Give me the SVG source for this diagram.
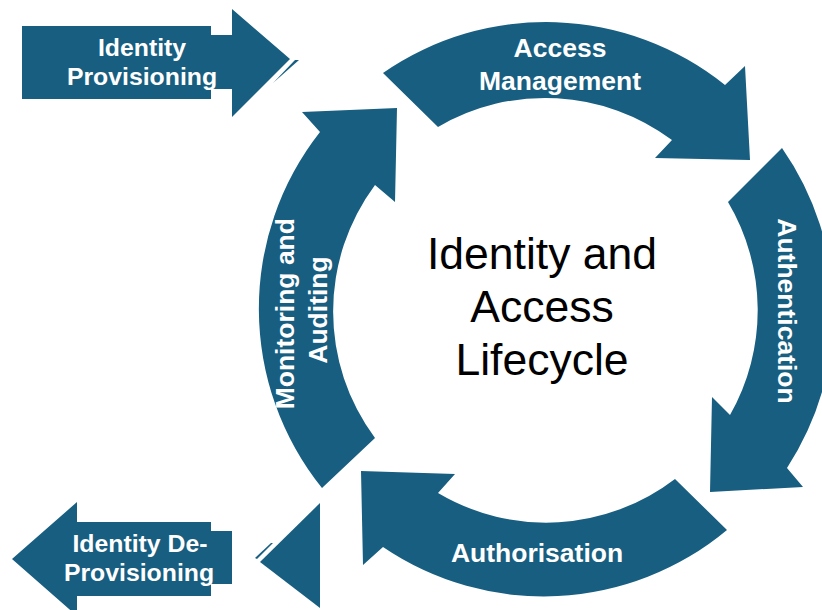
<svg xmlns="http://www.w3.org/2000/svg" width="822" height="610" viewBox="0 0 822 610">
  <style>
    .shape { fill: #175e80; }
    .lbl { fill: #ffffff; font-family: "Liberation Sans", Arial, sans-serif; font-weight: bold; font-size: 26.5px; text-anchor: middle; }
    .side { font-size: 24.8px; }
    .title { fill: #000000; font-family: "Liberation Sans", Arial, sans-serif; font-size: 44.5px; text-anchor: middle; }
  </style>
  <rect width="822" height="610" fill="#ffffff"/>

  <!-- entry arrow -->
  <g id="identity-provisioning">
    <path class="shape" d="M22,26 H211 V35 H232 V9 L290,59 L232,117 V89 H211 V99 H22 Z"/>
    <polygon class="shape" points="295,60 299,60 273,83"/>
    <text class="lbl side" x="142" y="56">Identity</text>
    <text class="lbl side" x="142" y="85">Provisioning</text>
  </g>

  <!-- exit arrow -->
  <g id="identity-deprovisioning">
    <path class="shape" d="M12,559 L77,502 V522 H211 V531 H232 V584 H211 V596 H77 V616 Z"/>
    <text class="lbl side" x="140" y="552">Identity De-</text>
    <text class="lbl side" x="139" y="581">Provisioning</text>
  </g>

  <!-- lifecycle ring segments -->
  <g id="access-management">
    <path class="shape" d="M383,73 A286,286 0 0 1 725,85 L745,66 L750,160 L655,158 L672,140 A212,212 0 0 0 438,127 Z"/>
    <text class="lbl" x="560" y="57">Access</text>
    <text class="lbl" x="560" y="90">Management</text>
  </g>

  <g id="authentication">
    <path class="shape" d="M782,148 A286,286 0 0 1 787,468 L803,487 L710,492 L712,397 L730,415 A212,212 0 0 0 728,202 Z"/>
    <text class="lbl" transform="translate(778,311) rotate(90)">Authentication</text>
  </g>

  <g id="authorisation">
    <path class="shape" d="M727,530 A286,286 0 0 1 383,547 L363,565 L361,471 L455,474 L438,493 A212,212 0 0 0 675,479 Z"/>
    <text class="lbl" x="537" y="562">Authorisation</text>
  </g>

  <g id="monitoring-auditing">
    <path class="shape" d="M322,488 A286,286 0 0 1 320,132 L302,112 L397,108 L395,202 L375,185 A212,212 0 0 0 375,438 Z"/>
    <text class="lbl" transform="translate(294,310) rotate(-90)">
      <tspan x="0" y="0">Monitoring and</tspan>
      <tspan x="0" y="33">Auditing</tspan>
    </text>
  </g>

  <g id="lifecycle-title">
    <text class="title" x="542" y="269">Identity and</text>
    <text class="title" x="542" y="322">Access</text>
    <text class="title" x="542" y="375">Lifecycle</text>
  </g>

  <!-- connector head leading out to de-provisioning -->
  <g id="connectors">
    <polygon class="shape" points="320,503 260,562 320,608"/>
    <polygon class="shape" points="255,558 257,559 273,543 271,543"/>
  </g>
</svg>
